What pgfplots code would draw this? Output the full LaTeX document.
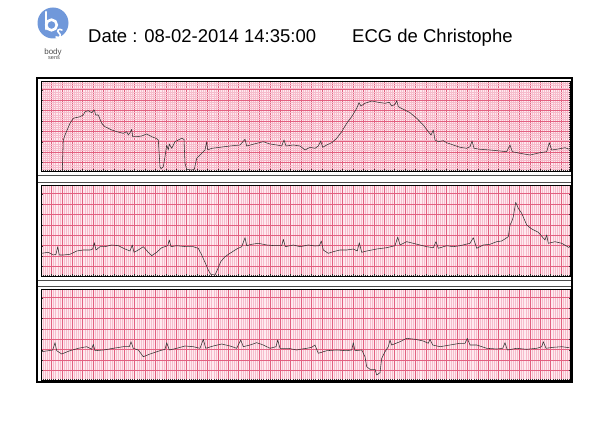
\documentclass[border=0pt]{standalone}
\usepackage{pgfplots}
\pgfplotsset{compat=1.18}
\usepackage{fontspec}
\setmainfont{Liberation Sans}
\definecolor{ecgbg}{RGB}{255,234,239}
\definecolor{ecgminor}{RGB}{246,188,204}
\definecolor{ecgmajor}{RGB}{226,96,128}
\definecolor{logoblue}{RGB}{112,152,218}
\pgfplotsset{
  ecg/.style={
    scale only axis, width=529pt, anchor=south west,
    xmin=41, xmax=570, y dir=reverse,
    axis background/.style={fill=ecgbg},
    xtick={41,51.4,...,570}, minor x tick num=4, minor y tick num=4,
    grid=both,
    major grid style={draw=ecgmajor, line width=0.45pt},
    minor grid style={draw=ecgminor, line width=0.15pt},
    xticklabels={}, yticklabels={},
    major tick length=1.5pt, minor tick length=1.2pt,
    major tick style={draw=black!80, line width=0.25pt},
    minor tick style={draw=black!80, line width=0.25pt},
    axis line style={black, line width=0.5pt},
    clip=true,
  },
  trace/.style={black!80, line width=0.55pt, line join=round},
}
\begin{document}
\begin{tikzpicture}[x=1pt,y=1pt]
\path (0pt,0pt) rectangle (610pt,431pt);
% logo
\fill[logoblue] (53pt,408pt) circle (15.5pt);
\draw[white, line width=2.6pt, line cap=round] (46pt,419pt) -- (46pt,402pt);
\draw[white, line width=2.6pt] (51.5pt,406pt) circle (5.3pt);
\draw[white, line width=1.6pt, line cap=round] (62pt,401pt) .. controls (59pt,403pt) and (56pt,400pt) .. (59pt,398pt) .. controls (62pt,396pt) and (60pt,392pt) .. (56pt,394pt);
\node[black!70, font=\fontsize{8}{8}\selectfont] at (53pt,379pt) {body};
\node[black!70, font=\fontsize{5.5}{5.5}\selectfont] at (54pt,373pt) {sens};
% title
\node[anchor=base west, font=\fontsize{18.5}{18.5}\selectfont, inner sep=0pt] at (88pt,388pt) {Date : 08-02-2014 14:35:00};
\node[anchor=base west, font=\fontsize{18.5}{18.5}\selectfont, inner sep=0pt] at (352pt,388pt) {ECG de Christophe};
% frames
\draw[black!70, line width=0.8pt] (37pt,256pt) -- (572pt,256pt) (37pt,249pt) -- (572pt,249pt) (37pt,151pt) -- (572pt,151pt) (37pt,145pt) -- (572pt,145pt);
% strip 1
\begin{axis}[ecg, at={(41pt,260pt)}, height=90pt, ymin=81, ymax=171,
  ytick={79.3,89.7,...,172}]
\addplot[trace] coordinates {
(62.3,170)(63.3,140)(65,135)(70,123.3)(73.3,118.3)(80,116.7)(83.3,115)(85,111.7)(88.3,110.7)(91.7,112.7)(94.3,110)(95.7,115)(98.3,115)(101.7,123.3)(105,126.7)(108.3,128.3)(111.7,130)(116.7,131.7)(123.3,133.3)(126.7,131.7)(128.3,135)(130,132.7)(131.7,129.3)(132.7,136.7)(136.7,136.7)(141.7,136)(146.7,134)(151.7,136.7)(156,138.3)(158.3,140)(160,166.7)(161,168.7)(163.3,166.7)(165,156.7)(166.7,145)(168.3,150)(169.3,144)(171.7,148.3)(175,141.7)(178.3,140)(181.7,138.3)(184,139.3)(185,163.3)(186.7,169.3)(191.7,170)(194.3,169.3)(196.7,158.3)(200,155)(203.3,151.7)(205,150)(206.7,141.7)(207.7,150)(211.7,148.3)(220,147.3)(230,146)(240,145)(245,139.3)(246.7,146)(256.7,143.3)(263.3,141.7)(270,144)(276.7,145)(281.7,146)(284,140)(286,146)(293.3,145)(300,146)(305,150)(310,147.3)(315,148.3)(318.3,146)(320.7,141)(322.7,147.3)(326.7,145)(331.7,142.7)(336.7,138.3)(341.7,131.7)(346.7,123.3)(351.7,116.7)(356.7,108.3)(359,102.7)(361,106)(365,103.3)(371.7,101)(378.3,102.3)(385,103.3)(389.3,102.3)(391.7,106)(395,104.3)(396.7,100.7)(398.3,106.7)(403.3,109.3)(410,112.7)(416.7,118.3)(423.3,125)(428.3,131.7)(431,135)(433.3,130)(435,140)(438.3,141.7)(443.3,140.7)(446.7,142.7)(453.3,145)(460,147.3)(466.7,148.3)(470,146.7)(472,141)(474,148.3)(480,149.3)(490,150)(500,151)(506.7,151.7)(510,145)(512.3,151.7)(520,153.3)(530,155)(540,152.7)(546.7,151.7)(549.3,142.7)(551.7,150)(558.3,149)(565,147.7)(569.3,149.3)
};
\end{axis}
% strip 2
\begin{axis}[ecg, at={(41pt,155pt)}, height=91pt, ymin=185, ymax=276,
  ytick={183.3,193.7,...,277}]
\addplot[trace] coordinates {
(41.7,253.3)(48.3,252.3)(53.3,255)(56,254.3)(57.7,246.7)(59.3,255)(63.3,255)(70,254.3)(76.7,251)(83.3,250)(90,250)(92.7,249)(94.3,242.7)(96,250)(100,246.7)(105,246.7)(111.7,245)(118.3,245.7)(125,249)(130,251)(132.3,245)(134,252.3)(138.3,250)(143.3,246.7)(148.3,252.3)(151.7,255.7)(156.7,252.3)(161.7,247.7)(167.7,245.7)(169.3,240)(171,246.7)(176.7,245.7)(186.7,246.7)(193.3,246.7)(198.3,248.3)(201.7,255)(205,262.3)(208.3,270)(210.7,274.3)(215,275)(217.3,270)(220.7,261.7)(225,256.7)(230,253.3)(236.7,249)(241.7,246.7)(245,237.7)(246.7,245.7)(251.7,244.3)(258.3,243.3)(266.7,245)(275,245.7)(281.7,245.7)(283.3,239.3)(285.3,246.7)(293.3,245)(300,246.7)(308.3,245)(315,246)(319.3,245.7)(321.3,241)(323.3,250)(328.3,253.3)(333.3,251.7)(340,250)(346.7,250)(353.3,249)(357.3,251)(359.3,242.7)(361.7,252.3)(366.7,251)(376.7,249)(386.7,247.7)(395,245.7)(397.7,237)(400,245)(406.7,241.7)(413.3,243.3)(420,245)(426.7,246.7)(433.3,247.7)(436,241.7)(438.3,248.3)(446.7,245.7)(453.3,246.7)(460,245.7)(470,243.3)(473.3,237.7)(476.7,248.3)(483.3,245)(490,244.3)(496.7,241.7)(501.7,241)(508.3,236.7)(510,225)(511.7,221.7)(513.3,216.7)(515.7,202.3)(518.3,208.3)(521.7,213.3)(526.7,225)(531.7,229)(538.3,232.3)(545,240)(546.7,235)(548.3,243.3)(555,241.7)(561.7,243.3)(569.3,247.7)
};
\end{axis}
% strip 3
\begin{axis}[ecg, at={(41pt,51pt)}, height=91pt, ymin=289, ymax=380,
  ytick={287.3,297.7,...,381}]
\addplot[trace] coordinates {
(41.7,351.7)(48.3,350.7)(52.7,350)(55,342.7)(56.7,350.7)(61.7,354)(70,350.7)(78.3,348.3)(86.7,346.7)(91.7,349.3)(93.3,344.3)(95,350.7)(103.3,350)(113.3,348.3)(123.3,346.7)(129.3,346.7)(131,341.7)(133.3,348.3)(138.3,350)(143.3,356.7)(150,354)(160,350.7)(165,349.3)(166.7,342.7)(169.3,350)(176.7,348.3)(185,346)(193.3,346.7)(200,348.3)(203.3,339.3)(205.7,348.3)(213.3,346)(221.7,344)(230,346)(236.7,348.3)(240.7,340)(243.3,346.7)(250,345)(256.7,342.7)(263.3,345)(270,348.3)(276,346.7)(277.7,340)(280,348.3)(288.3,348.3)(296.7,350)(300,349.3)(306.7,348.3)(311.7,347.3)(315,345)(318.3,353.3)(326.7,350.7)(336.7,350)(346.7,350.7)(351.7,350)(353.3,342.7)(355,350.7)(361.7,350)(365,356.7)(366.7,366.7)(370,369.3)(375,369.3)(376.7,375)(380,372.7)(381.7,358.3)(385,351.7)(388.3,346.7)(390,340)(391.7,345)(400,341.7)(406.7,338.3)(415,339.3)(423.3,341)(428.3,343.3)(430,339.3)(432.7,345)(440,346.7)(450,345)(460,343.3)(465,343.3)(467.3,338.3)(470,345)(476.7,345)(486.7,348.3)(496.7,349)(502.7,348.3)(505,342.7)(507.3,350)(516.7,348.3)(526.7,349.3)(536.7,348.3)(541.7,346.7)(543.3,341.7)(546,348.3)(553.3,347.3)(561.7,346.7)(569.3,347.7)
};
\end{axis}
\draw[black, line width=1.4pt] (37pt,49pt) rectangle (572pt,353pt);
\end{tikzpicture}
\end{document}
